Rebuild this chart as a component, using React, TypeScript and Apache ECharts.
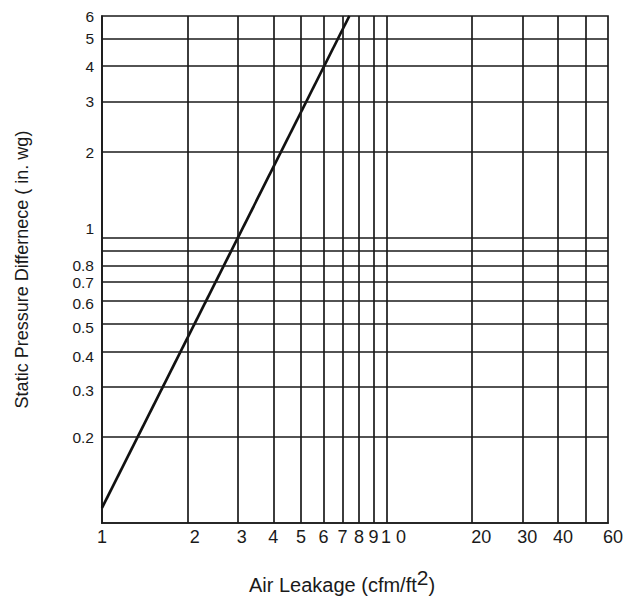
import React, { useEffect, useRef } from "react";
import * as echarts from "echarts";

const xLabelValues = [1, 2, 3, 4, 5, 6, 7, 8, 9, 10, 20, 30, 40, 60];
const yLabelValues = [0.2, 0.3, 0.4, 0.5, 0.6, 0.7, 0.8, 1, 2, 3, 4, 5, 6];
const xGridValues = [2, 3, 4, 5, 6, 7, 8, 9, 10, 20, 30, 40, 50];
const yGridValues = [0.2, 0.3, 0.4, 0.5, 0.6, 0.7, 0.8, 0.9, 1, 2, 3, 4, 5];
const leakage = [1, 7.4];
const pressure = [0.113, 6];

const FONT = "'Liberation Sans', Arial, Helvetica, sans-serif";
const INK = "#1a1a1a";

export default function App() {
  const ref = useRef<HTMLDivElement>(null);

  useEffect(() => {
    document.body.style.margin = "0";
    if (!ref.current) return;
    const chart = echarts.init(ref.current, undefined, { renderer: "svg" });

    const xBase = { fontSize: 18, fontFamily: FONT, color: INK };
    const yBase = { fontSize: 15.5, fontFamily: FONT, color: INK, lineHeight: 14 };

    const xShift: Record<string, string> = { "2": "p14", "3": "p8", "10": "p14", "20": "p18", "30": "p10", "40": "p10", "60": "p10" };
    const yShift: Record<string, string> = { "1": "u18", "0.6": "d4", "0.5": "d8", "0.4": "d10", "0.3": "d8" };

    const option: any = {
      animation: false,
      grid: {
        left: 102,
        top: 16,
        right: 20,
        bottom: 81,
        show: true,
        borderColor: INK,
        borderWidth: 1.7,
        backgroundColor: "transparent",
      },
      xAxis: {
        type: "log",
        logBase: 10,
        min: 1,
        max: 60,
        axisLine: { show: true, lineStyle: { color: INK, width: 1.7 } },
        axisTick: { show: false },
        splitLine: { show: false },
        minorSplitLine: { show: false },
        axisLabel: {
          customValues: xLabelValues,
          margin: 5,
          ...xBase,
          formatter: (v: number) => {
            const key = String(Math.round(v * 1000) / 1000);
            const txt = key === "10" ? "1 0" : key;
            const s = xShift[key];
            return s ? `{${s}|${txt}}` : `{n|${txt}}`;
          },
          rich: {
            n: { ...xBase },
            p8: { ...xBase, padding: [0, 0, 0, 8] },
            p10: { ...xBase, padding: [0, 0, 0, 10] },
            p14: { ...xBase, padding: [0, 0, 0, 14] },
            p18: { ...xBase, padding: [0, 0, 0, 18] },
          },
        },
        name: "{a|Air Leakage (cfm/ft}{s|2}{a|)}",
        nameLocation: "middle",
        nameGap: 49,
        nameTextStyle: {
          fontFamily: FONT,
          color: INK,
          padding: [0, 26, 0, 0],
          rich: {
            a: { fontSize: 20, fontFamily: FONT, color: INK, lineHeight: 23, verticalAlign: "bottom" },
            s: { fontSize: 21, fontFamily: FONT, color: INK, lineHeight: 23, verticalAlign: "bottom", padding: [0, 0, 7, 0] },
          },
        },
      },
      yAxis: {
        type: "log",
        logBase: 10,
        min: 0.1,
        max: 6,
        axisLine: { show: true, lineStyle: { color: INK, width: 1.7 } },
        axisTick: { show: false },
        splitLine: { show: false },
        axisLabel: {
          customValues: yLabelValues,
          margin: 8,
          ...yBase,
          formatter: (v: number) => {
            const key = String(Math.round(v * 1000) / 1000);
            const s = yShift[key];
            return s ? `{${s}|${key}}` : `{n|${key}}`;
          },
          rich: {
            n: { ...yBase },
            u18: { ...yBase, padding: [0, 0, 18, 0] },
            d4: { ...yBase, padding: [4, 0, 0, 0] },
            d8: { ...yBase, padding: [8, 0, 0, 0] },
            d10: { ...yBase, padding: [10, 0, 0, 0] },
          },
        },
        name: "Static Pressure Differnece ( in. wg)",
        nameLocation: "middle",
        nameGap: 71,
        nameTextStyle: { fontSize: 18, fontFamily: FONT, color: INK },
      },
      series: [
        {
          type: "line",
          data: leakage.map((x, i) => [x, pressure[i]]),
          symbol: "none",
          lineStyle: { color: "#111111", width: 2.7 },
          silent: true,
          markLine: {
            silent: true,
            symbol: ["none", "none"],
            label: { show: false },
            lineStyle: { color: INK, width: 1.7, type: "solid" },
            emphasis: { disabled: true },
            data: [
              ...xGridValues.map((v) => ({ xAxis: v })),
              ...yGridValues.map((v) => ({ yAxis: v })),
            ],
          },
        },
      ],
    };

    chart.setOption(option);
    return () => chart.dispose();
  }, []);

  return (
    <div
      ref={ref}
      style={{ position: "absolute", left: 0, top: 0, width: 628, height: 604 }}
    />
  );
}
